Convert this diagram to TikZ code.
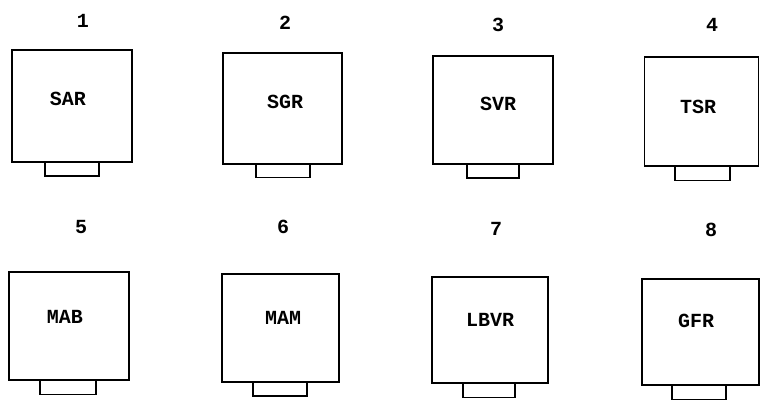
\documentclass[tikz,border=0pt]{standalone}
\usepackage{fontspec}
\setmonofont{Liberation Mono}
\begin{document}
\begin{tikzpicture}[x=1pt,y=-1pt,
  box/.style={draw, line width=1.4pt, inner sep=0pt, rectangle},
  tab/.style={draw, line width=1.2pt, inner sep=0pt, rectangle, minimum width=54pt, minimum height=14pt},
  lbl/.style={font=\ttfamily\bfseries\fontsize{20}{20}\selectfont, inner sep=0pt},
  num/.style={font=\ttfamily\bfseries\fontsize{20}{20}\selectfont, inner sep=0pt}]
\useasboundingbox (0,0) rectangle (760,400);
% row 1
\node[box, minimum width=120pt, minimum height=112pt] (b1) at (72,106) {};
\node[tab] (t1) at (72,169) {};
\node[lbl] (l1) at (68,99) {SAR};
\node[num] (n1) at (83,21) {1};
\node[box, minimum width=119pt, minimum height=111pt] (b2) at (282.5,108.5) {};
\node[tab] (t2) at (283,170.5) {};
\node[lbl] (l2) at (285,102) {SGR};
\node[num] (n2) at (285,23) {2};
\node[box, minimum width=120pt, minimum height=108pt] (b3) at (493,110) {};
\node[tab, minimum width=52pt] (t3) at (493,171) {};
\node[lbl] (l3) at (498,104) {SVR};
\node[num] (n3) at (498,25) {3};
\node[box, minimum width=114pt, minimum height=109pt] (b4) at (701.5,111.5) {};
\node[tab, minimum width=55pt] (t4) at (702.5,173.5) {};
\node[lbl] (l4) at (698,107) {TSR};
\node[num] (n4) at (712,25) {4};
% row 2
\node[box, minimum width=120pt, minimum height=108pt] (b5) at (69,326) {};
\node[tab, minimum width=56pt] (t5) at (68,387.5) {};
\node[lbl] (l5) at (65,317) {MAB};
\node[num] (n5) at (81,227) {5};
\node[box, minimum width=117pt, minimum height=108pt] (b6) at (280.5,328) {};
\node[tab] (t6) at (280,389) {};
\node[lbl] (l6) at (283,318) {MAM};
\node[num] (n6) at (283,227) {6};
\node[box, minimum width=116pt, minimum height=106pt] (b7) at (490,330) {};
\node[tab, minimum width=52pt] (t7) at (489,390.5) {};
\node[lbl] (l7) at (490,320) {LBVR};
\node[num] (n7) at (496,229) {7};
\node[box, minimum width=117pt, minimum height=106pt] (b8) at (700.5,332) {};
\node[tab] (t8) at (699,392.5) {};
\node[lbl] (l8) at (696,321) {GFR};
\node[num] (n8) at (711,230) {8};
\end{tikzpicture}
\end{document}
